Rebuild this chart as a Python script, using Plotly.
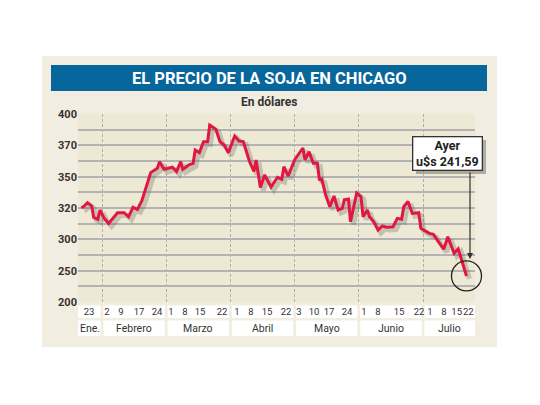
import plotly.graph_objects as go
import pandas as pd
import numpy as np

# ---- data ----
dates = [
    "2004-01-22", "2004-01-23", "2004-01-25", "2004-01-27", "2004-01-28", "2004-01-30", "2004-01-31",
    "2004-02-02", "2004-02-04", "2004-02-06", "2004-02-08", "2004-02-11", "2004-02-13", "2004-02-15",
    "2004-02-17", "2004-02-19", "2004-02-21", "2004-02-23", "2004-02-26", "2004-02-27", "2004-02-29",
    "2004-03-04", "2004-03-06", "2004-03-08", "2004-03-09", "2004-03-12", "2004-03-14", "2004-03-15",
    "2004-03-17", "2004-03-19", "2004-03-21", "2004-03-22", "2004-03-25", "2004-03-27", "2004-03-29",
    "2004-03-31",
    "2004-04-03", "2004-04-05", "2004-04-07", "2004-04-10", "2004-04-12", "2004-04-13", "2004-04-15",
    "2004-04-17", "2004-04-20", "2004-04-23", "2004-04-25", "2004-04-26", "2004-04-28",
    "2004-05-01", "2004-05-05", "2004-05-06", "2004-05-08", "2004-05-10", "2004-05-12", "2004-05-13",
    "2004-05-14", "2004-05-16", "2004-05-18", "2004-05-20", "2004-05-22", "2004-05-24", "2004-05-25",
    "2004-05-27", "2004-05-28", "2004-05-31",
    "2004-06-02", "2004-06-03", "2004-06-05", "2004-06-06", "2004-06-08", "2004-06-10", "2004-06-12",
    "2004-06-14", "2004-06-17", "2004-06-19", "2004-06-21", "2004-06-22", "2004-06-24", "2004-06-26",
    "2004-06-29", "2004-06-30",
    "2004-07-04", "2004-07-06", "2004-07-11", "2004-07-13", "2004-07-16", "2004-07-18", "2004-07-22",
]
prices = [
    320.3, 321.2, 325.1, 321.9, 314.0, 312.8, 318.7,
    313.4, 310.2, 313.4, 317.0, 317.0, 314.4, 320.7,
    319.1, 327.0, 340.4, 352.6, 355.4, 359.6, 354.7,
    356.0, 353.2, 359.6, 354.7, 357.5, 358.5, 367.0,
    365.3, 373.4, 373.4, 389.4, 385.3, 373.4, 370.3,
    365.3,
    378.9, 374.1, 373.6, 359.4, 353.3, 360.7, 339.6,
    351.1, 340.1, 349.4, 347.5, 356.4, 350.4,
    360.7, 368.3, 360.7, 365.9, 358.5, 358.5, 346.5,
    348.5, 332.4, 321.2, 331.5, 318.7, 319.8, 327.8,
    328.5, 311.2, 334.4,
    330.9, 314.4, 318.7, 314.4, 311.2, 305.9, 308.5,
    307.7, 308.0, 313.4, 312.8, 321.2, 326.2, 316.5,
    317.0, 307.0,
    303.8, 303.2, 284.2, 301.7, 277.8, 284.7, 241.59,
]
y_tick_labels = [200, 250, 300, 320, 350, 370, 400]
months = ["Ene.", "Febrero", "Marzo", "Abril", "Mayo", "Junio", "Julio"]
day_labels = [["23"], ["2", "9", "17", "24"], ["1", "8", "15", "22"], ["1", "8", "15", "22"],
              ["3", "10", "17", "24"], ["1", "8", "15", "22"], ["1", "8", "15", "22"]]
title = "EL PRECIO DE LA SOJA EN CHICAGO"
subtitle = "En dólares"
callout = "Ayer<br>u$s 241,59"

# ---- layout positions (fraction of each month column where day labels sit) ----
day_label_pos = [[0.797], [0.078, 0.296, 0.576, 0.857], [0.075, 0.293, 0.526, 0.869],
                 [0.103, 0.321, 0.570, 0.866], [0.069, 0.302, 0.536, 0.816],
                 [0.081, 0.299, 0.626, 0.938], [0.109, 0.327, 0.525, 0.705]]

# month-column scale: each month gets equal width
d = pd.to_datetime(dates)
xpos = np.asarray((d.month - 1) + (d.day - 1) / d.days_in_month, dtype=float)
level = np.interp(prices, y_tick_labels, np.arange(len(y_tick_labels)))

XMIN, XMAX = 0.626, 6.81
YMAX = len(y_tick_labels) - 1
W, H = 540, 405
ML, MR, MT, MB = 78, 65, 114, 103
PW, PH = W - ML - MR, H - MT - MB

def px(x):
    return (x - ML) / PW

def py(y):
    return (H - MB - y) / PH

tickvals, ticktext = [], []
for i, (labs, poss) in enumerate(zip(day_labels, day_label_pos)):
    for lab, p in zip(labs, poss):
        tickvals.append(i + p)
        ticktext.append(lab)

RED = "#e1173f"
FONT = "Roboto"

fig = go.Figure()
# white area under the curve (subplot 1, beneath the grid)
fig.add_trace(go.Scatter(x=xpos, y=level, mode="lines", line=dict(width=0, color="white"),
                         fill="tozeroy", fillcolor="white", hoverinfo="skip",
                         xaxis="x", yaxis="y", showlegend=False))
# shadow
fig.add_trace(go.Scatter(x=xpos + 0.045, y=level - 0.09, mode="lines",
                         line=dict(width=5, color="rgba(90,90,90,0.28)"),
                         xaxis="x2", yaxis="y2", showlegend=False, hoverinfo="skip"))
# price line
fig.add_trace(go.Scatter(x=xpos, y=level, mode="lines", line=dict(width=3, color=RED),
                         xaxis="x2", yaxis="y2", showlegend=False))

shapes = []
# outer panel
shapes.append(dict(type="rect", xref="paper", yref="paper", x0=px(42), x1=px(497), y0=py(347), y1=py(56),
                   fillcolor="#f1eee1", line=dict(width=0), layer="below"))
# title bar
shapes.append(dict(type="rect", xref="paper", yref="paper", x0=px(51), x1=px(487), y0=py(91), y1=py(65),
                   fillcolor="#07669b", line=dict(width=0), layer="below"))
# label cells
gap = 0.022
for i in range(len(months)):
    a = max(i, XMIN) + (gap if i > 0 else 0)
    b = min(i + 1, XMAX) - (gap if i < len(months) - 1 else 0)
    for (y0, y1) in [(py(318), py(305.5)), (py(336), py(320.5))]:
        shapes.append(dict(type="rect", xref="x2", yref="paper", x0=a, x1=b, y0=y0, y1=y1,
                           fillcolor="white", line=dict(width=0), layer="below"))
# callout shadow
shapes.append(dict(type="rect", xref="paper", yref="paper", x0=px(416), x1=px(486), y0=py(174), y1=py(140),
                   fillcolor="rgba(0,0,0,0.28)", line=dict(width=0), layer="above"))
# circle round the last value (paper ref so it is not clipped by the plot area)
shapes.append(dict(type="circle", xref="paper", yref="paper", xsizemode="pixel", ysizemode="pixel",
                   xanchor=(xpos[-1] - XMIN) / (XMAX - XMIN), yanchor=level[-1] / YMAX,
                   x0=-15, x1=15, y0=-15, y1=15,
                   line=dict(color="#222", width=1.3), layer="above"))

annotations = []
for i, m in enumerate(months):
    a = max(i, XMIN)
    b = min(i + 1, XMAX)
    annotations.append(dict(x=(a + b) / 2, y=py(328.5), xref="x2", yref="paper", text=m,
                            showarrow=False, font=dict(family=FONT, size=10.5, color="#333"),
                            xanchor="center", yanchor="middle"))
annotations.append(dict(x=px(269), y=py(78), xref="paper", yref="paper", text=title, showarrow=False,
                        font=dict(family=FONT, size=16.5, color="white", weight="bold"),
                        xanchor="center", yanchor="middle"))
annotations.append(dict(x=px(269), y=py(102), xref="paper", yref="paper", text=subtitle, showarrow=False,
                        font=dict(family=FONT, size=12, color="#333", weight="bold"),
                        xanchor="center", yanchor="middle"))
# arrow
annotations.append(dict(x=px(470), y=py(259), xref="paper", yref="paper", text="", showarrow=True,
                        ax=0, ay=-88, arrowhead=2, arrowsize=1, arrowwidth=1.2, arrowcolor="#333"))
# callout box
annotations.append(dict(x=px(447.5), y=py(153.5), xref="paper", yref="paper", text=callout, showarrow=False,
                        font=dict(family=FONT, size=12.5, color="#222", weight="bold"),
                        bgcolor="white", bordercolor="#333", borderwidth=1.3, borderpad=2,
                        width=64, height=28, xanchor="center", yanchor="middle"))

grid = "#b3b3b3"
fig.update_layout(
    width=W, height=H, margin=dict(l=ML, r=MR, t=MT, b=MB),
    paper_bgcolor="white", plot_bgcolor="#eee9d4",
    showlegend=False,
    xaxis=dict(range=[XMIN, XMAX], visible=False, fixedrange=True),
    yaxis=dict(range=[0, YMAX], visible=False, fixedrange=True),
    xaxis2=dict(range=[XMIN, XMAX], anchor="y2", showgrid=False, zeroline=False, showline=False,
                tickvals=tickvals, ticktext=ticktext, ticks="", tickangle=0, ticklabelstandoff=2,
                tickfont=dict(family=FONT, size=9.5, color="#333"),
                minor=dict(tickvals=[XMIN + 0.01, 1, 2, 3, 4, 5, 6, XMAX - 0.01], showgrid=True,
                           gridcolor="#adadad", gridwidth=1, griddash="3px,2px", ticks="")),
    yaxis2=dict(range=[0, YMAX], anchor="x2", zeroline=False, showline=False,
                tickvals=list(range(len(y_tick_labels))), ticktext=[str(v) for v in y_tick_labels],
                showgrid=True, gridcolor=grid, gridwidth=1.5, ticks="",
                tickfont=dict(family=FONT, size=11, color="#333", weight="bold"),
                minor=dict(tickvals=[k + 0.5 for k in range(YMAX)], showgrid=True,
                           gridcolor=grid, gridwidth=1.5, ticks="")),
    shapes=shapes, annotations=annotations,
)
fig.write_html("out.html")
